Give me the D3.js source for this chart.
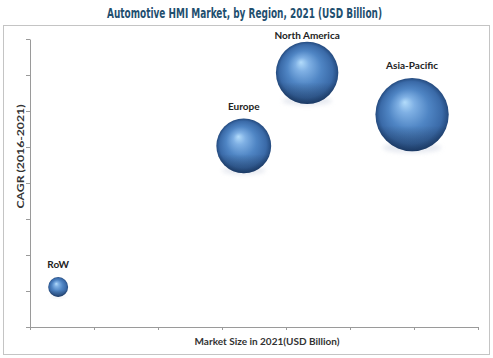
<!DOCTYPE html>
<html>
<head>
<meta charset="utf-8">
<script src="https://cdn.jsdelivr.net/npm/d3@7"></script>
<style>
  html, body { margin: 0; padding: 0; background: #fff; }
  svg { display: block; }
</style>
</head>
<body>
<svg id="chart" width="493" height="358"></svg>
<script>
// ---- data ----
const regions = ["RoW", "Europe", "North America", "Asia-Pacific"];
const marketSize = [0.44, 3.34, 4.33, 5.97];   // x value and bubble size
const cagr = [1.11, 5.03, 7.06, 5.90];          // y value
const xTickValues = [0, 1, 2, 3, 4, 5, 6, 7];
const yTickValues = [0, 1, 2, 3, 4, 5, 6, 7, 8];
const title = "Automotive HMI Market, by Region, 2021 (USD Billion)";
const xTitle = "Market Size in 2021(USD Billion)";
const yTitle = "CAGR (2016-2021)";

const svg = d3.select("#chart");
const plot = { left: 30, right: 478, top: 39, bottom: 327 };

const x = d3.scaleLinear().domain([0, 7]).range([plot.left, plot.right]);
const y = d3.scaleLinear().domain([0, 8]).range([plot.bottom, plot.top]);
const r = d3.scaleSqrt().domain([0, 1]).range([0, 15]);

// gradient
const defs = svg.append("defs");
const grad = defs.append("radialGradient").attr("id", "ball")
  .attr("cx", "50%").attr("cy", "50%").attr("r", "50%")
  .attr("fx", "40%").attr("fy", "33%");
grad.append("stop").attr("offset", "0%").attr("stop-color", "#b3dcfb");
grad.append("stop").attr("offset", "22%").attr("stop-color", "#7fb0e4");
grad.append("stop").attr("offset", "55%").attr("stop-color", "#4f85c4");
grad.append("stop").attr("offset", "85%").attr("stop-color", "#3a6aa8");
grad.append("stop").attr("offset", "100%").attr("stop-color", "#244a7e");

const shade = defs.append("linearGradient").attr("id", "shade")
  .attr("x1", "0").attr("y1", "0").attr("x2", "0").attr("y2", "1");
shade.append("stop").attr("offset", "0%").attr("stop-color", "#000").attr("stop-opacity", 0);
shade.append("stop").attr("offset", "65%").attr("stop-color", "#000").attr("stop-opacity", 0);
shade.append("stop").attr("offset", "100%").attr("stop-color", "#0a1a33").attr("stop-opacity", 0.35);

const blur = defs.append("filter").attr("id", "soft").attr("x", "-50%").attr("y", "-50%").attr("width", "200%").attr("height", "200%");
blur.append("feGaussianBlur").attr("stdDeviation", 2);

// frame
svg.append("rect").attr("x", 3.5).attr("y", 25.5).attr("width", 486).attr("height", 329)
  .attr("fill", "#fff").attr("stroke", "#c4c4c4").attr("stroke-width", 1);

// title
svg.append("text").attr("x", 244.5).attr("y", 18).attr("text-anchor", "middle")
  .attr("font-family", "'Liberation Sans Narrow', 'DejaVu Sans Condensed', 'Arial Narrow', sans-serif")
  .attr("font-weight", "bold").attr("font-size", 13.5).attr("fill", "#1f4f6f")
  .attr("textLength", 275).attr("lengthAdjust", "spacingAndGlyphs")
  .text(title);

// axes
const xAxis = svg.append("g").attr("transform", `translate(0,${plot.bottom})`)
  .call(d3.axisBottom(x).tickValues(xTickValues).tickSize(3).tickSizeOuter(0).tickFormat(""));
const yAxis = svg.append("g").attr("transform", `translate(${plot.left},0)`)
  .call(d3.axisLeft(y).tickValues(yTickValues).tickSize(4).tickSizeOuter(0).tickFormat(""));
[xAxis, yAxis].forEach(g => {
  g.select(".domain").attr("stroke", "#9a9a9a");
  g.selectAll(".tick line").attr("stroke", "#9a9a9a");
});

// axis titles
svg.append("text").attr("x", 267).attr("y", 345).attr("text-anchor", "middle")
  .attr("font-family", "Lato, 'Open Sans', sans-serif").attr("font-weight", "bold")
  .attr("font-size", 10).attr("fill", "#333").text(xTitle);
svg.append("text").attr("transform", "translate(24,156.5) rotate(-90)").attr("text-anchor", "middle")
  .attr("font-family", "Lato, 'Open Sans', sans-serif").attr("font-weight", "bold")
  .attr("font-size", 10).attr("fill", "#333")
  .attr("textLength", 104).attr("lengthAdjust", "spacingAndGlyphs").text(yTitle);

// bubbles
const data = regions.map((name, i) => ({ name, size: marketSize[i], cagr: cagr[i] }));
const g = svg.append("g");
const b = g.selectAll("g.bubble").data(data).join("g").attr("class", "bubble")
  .attr("transform", d => `translate(${x(d.size)},${y(d.cagr)})`);
b.append("ellipse").attr("cx", 0).attr("cy", d => r(d.size) * 0.9)
  .attr("rx", d => r(d.size) * 0.8).attr("ry", d => r(d.size) * 0.15)
  .attr("fill", "#d8dde8").attr("opacity", 0.6).attr("filter", "url(#soft)");
b.append("circle").attr("r", d => r(d.size)).attr("fill", "url(#ball)");
b.append("circle").attr("r", d => r(d.size)).attr("fill", "url(#shade)");
b.append("text")
  .attr("y", d => Math.max(-r(d.size) - 9, plot.top - y(d.cagr) - 0.5))
  .attr("text-anchor", "middle")
  .attr("font-family", "Lato, 'Open Sans', sans-serif").attr("font-weight", "bold")
  .attr("font-size", 10).attr("fill", "#222").text(d => d.name);
</script>
</body>
</html>
